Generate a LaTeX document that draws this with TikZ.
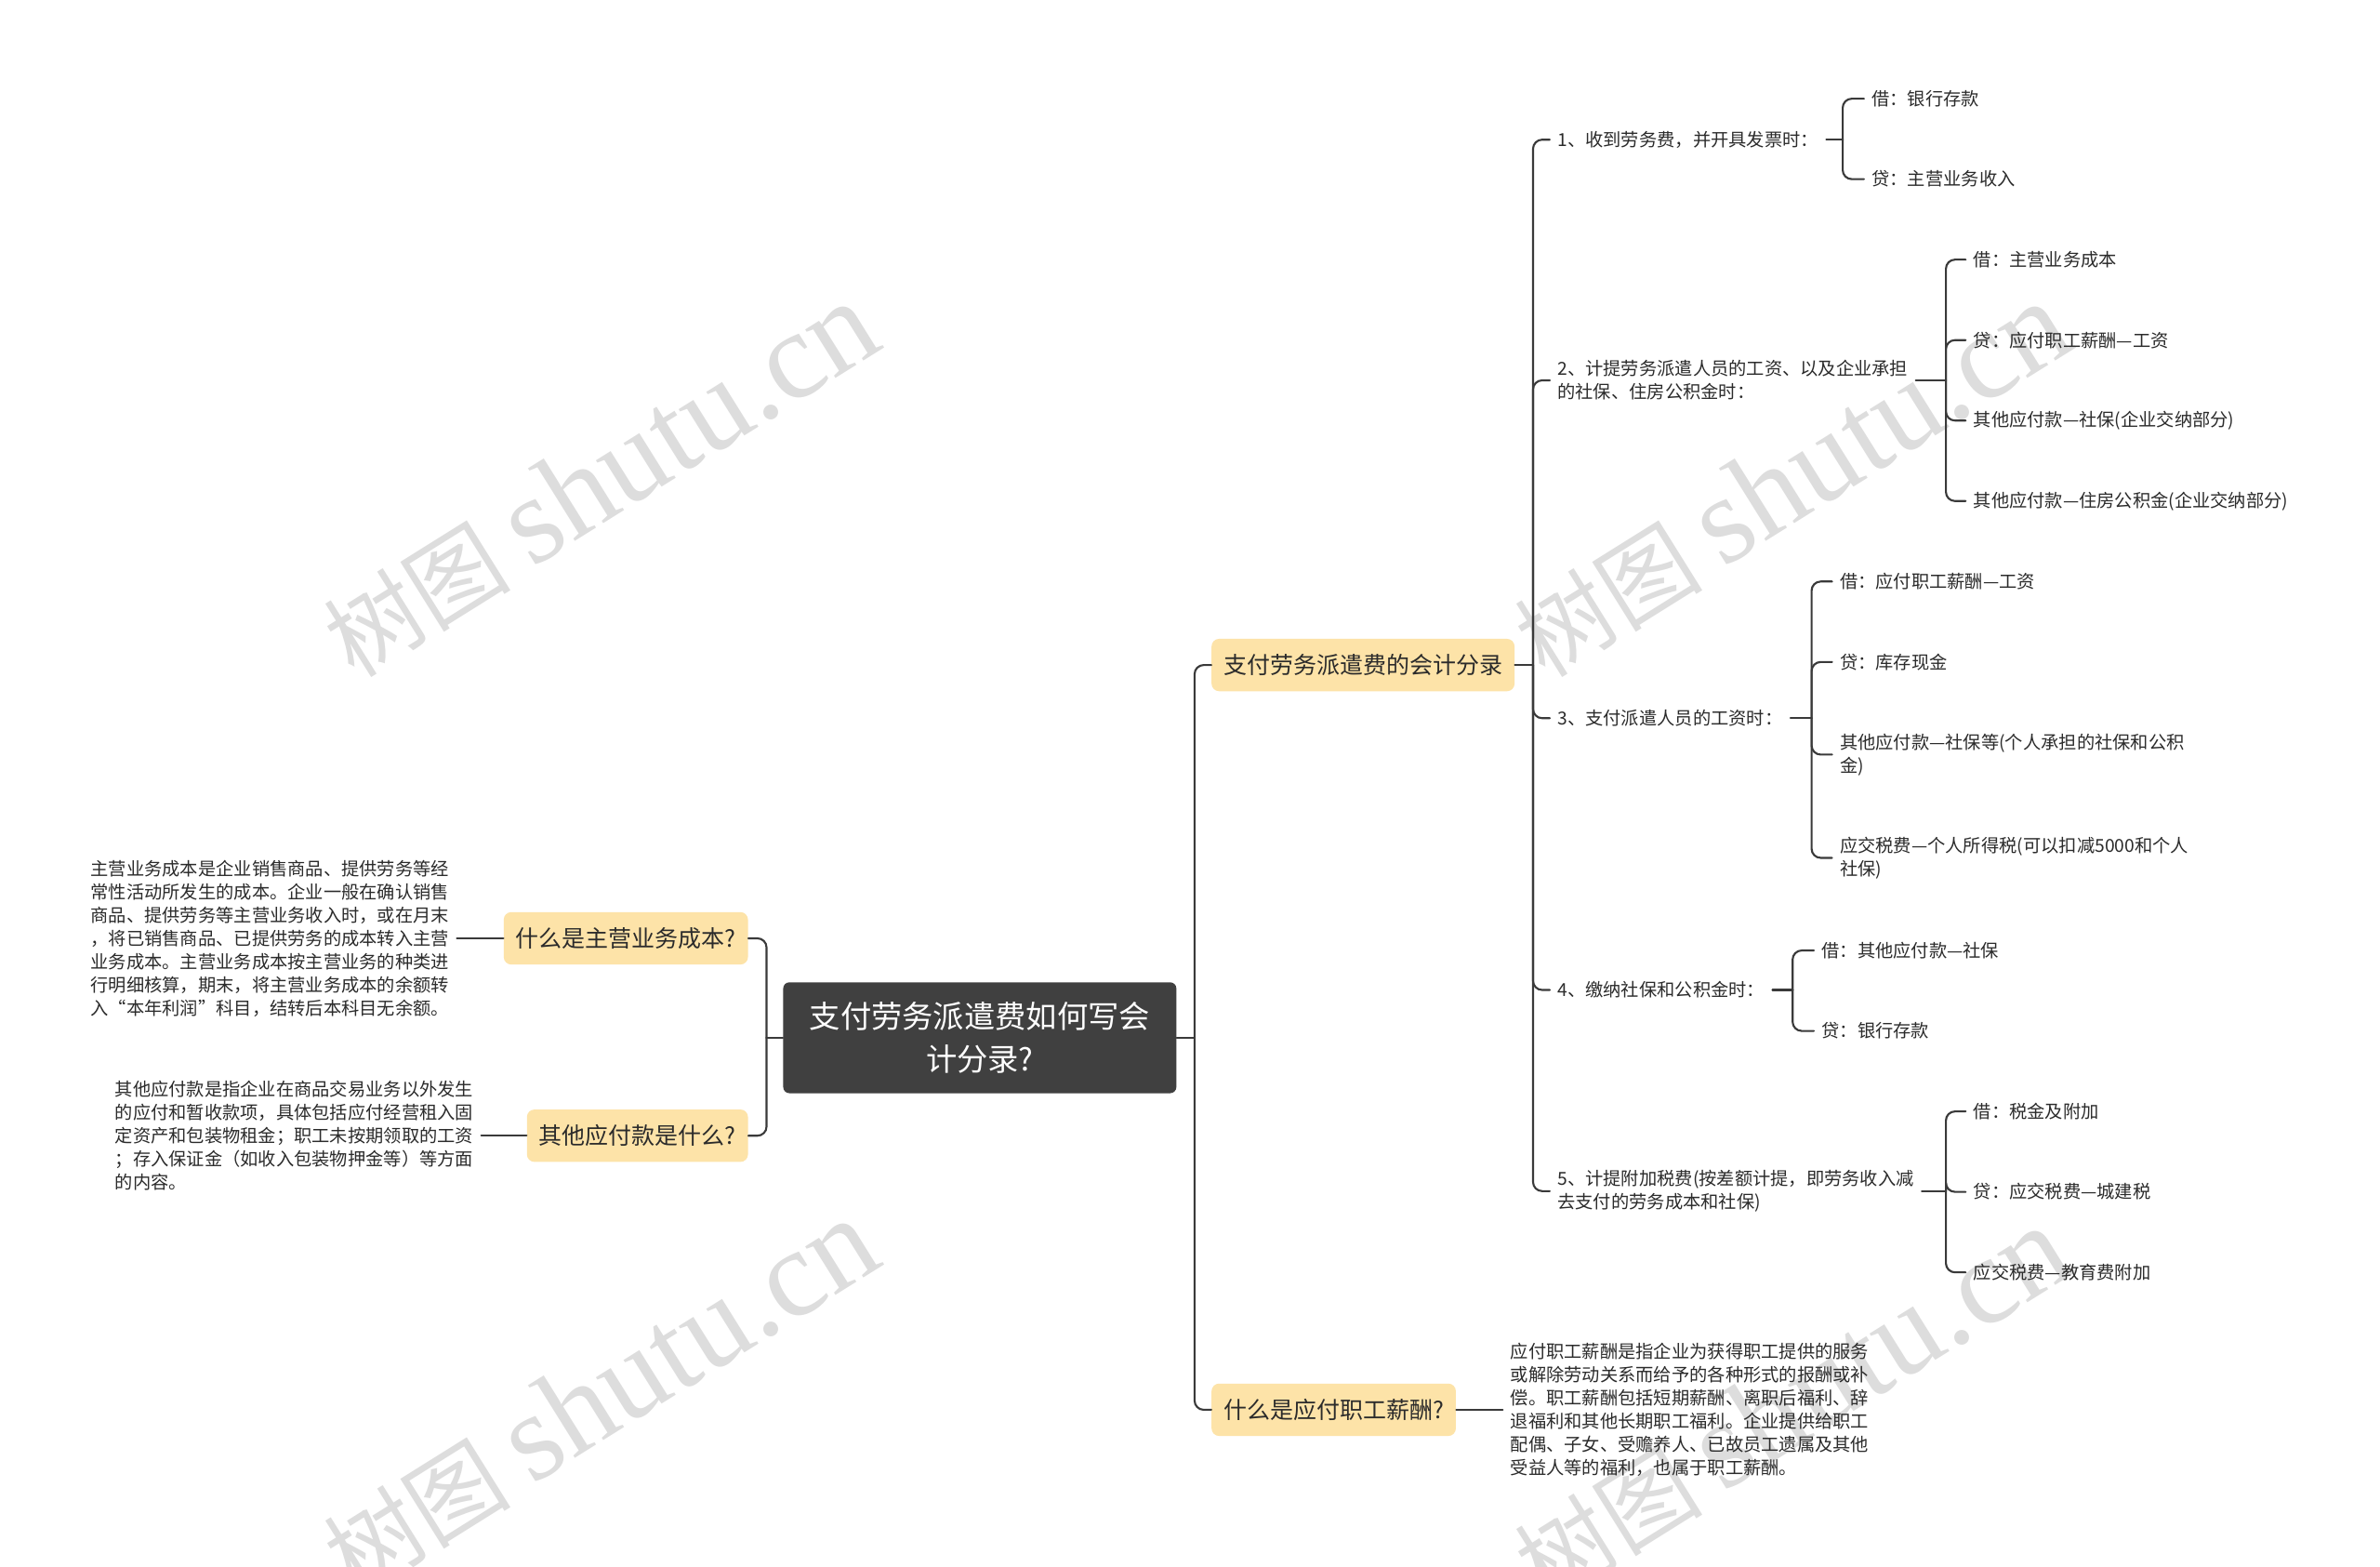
\documentclass[tikz,border=0pt]{standalone}
\usepackage{fontspec}
\setmainfont{Noto Sans CJK SC}
\newfontfamily\wmserif{Liberation Serif}
\usepackage{tikz}

\definecolor{linegray}{HTML}{3A3A3A}
\definecolor{rootfill}{HTML}{404040}
\definecolor{topicfill}{HTML}{FDE3A8}
\definecolor{txtcol}{HTML}{2B2B2B}
\definecolor{wmgray}{HTML}{DDDDDD}

\begin{document}
\begin{tikzpicture}[x=1pt,y=-1pt,
        root/.style={fill=rootfill, text=white, rounded corners=4pt, minimum width=259pt, minimum height=73pt, align=center, inner sep=0pt, font=\fontsize{20.4}{28}\selectfont},
        topic/.style={fill=topicfill, text=txtcol, rounded corners=5pt, inner xsep=8pt, minimum height=34.5pt, font=\fontsize{15.3}{18}\selectfont},
        leaf/.style={anchor=west, align=left, inner xsep=5pt, inner ysep=2pt, text=txtcol, font=\fontsize{11.8}{15.3}\selectfont},
        link/.style={draw=linegray, line width=1.3pt, rounded corners=6pt, line cap=round},
        wm/.style={text=wmgray, rotate=32, inner sep=0pt}]
        \useasboundingbox (0,0) rectangle (1568,1032);
        \fill[white] (0,0) rectangle (1568,1032);

        % watermarks
        \foreach \wx/\wy in {395/316, 1180/316, 395/920, 1180/925}
            \node[wm] at (\wx,\wy) {\fontsize{62}{62}\selectfont 树图 \wmserif\fontsize{82}{82}\selectfont shutu.cn};

        \node[root] (root) at (645.5,683.5) {支付劳务派遣费如何写会\\计分录?};

        \node[topic, anchor=west] (t1) at (798,438) {支付劳务派遣费的会计分录};
        \node[topic, anchor=west] (t2) at (798,928.5) {什么是应付职工薪酬?};
        \node[topic, anchor=east] (t3) at (493,618) {什么是主营业务成本?};
        \node[topic, anchor=east] (t4) at (493,748) {其他应付款是什么?};

        \node[leaf, anchor=east] (d3) at (301,618) {主营业务成本是企业销售商品、提供劳务等经\\常性活动所发生的成本。企业一般在确认销售\\商品、提供劳务等主营业务收入时，或在月末\\，将已销售商品、已提供劳务的成本转入主营\\业务成本。主营业务成本按主营业务的种类进\\行明细核算，期末，将主营业务成本的余额转\\入“本年利润”科目，结转后本科目无余额。};
        \node[leaf, anchor=east] (d4) at (317,748) {其他应付款是指企业在商品交易业务以外发生\\的应付和暂收款项，具体包括应付经营租入固\\定资产和包装物租金；职工未按期领取的工资\\；存入保证金（如收入包装物押金等）等方面\\的内容。};
        \node[leaf] (d2) at (990,928.5) {应付职工薪酬是指企业为获得职工提供的服务\\或解除劳动关系而给予的各种形式的报酬或补\\偿。职工薪酬包括短期薪酬、离职后福利、辞\\退福利和其他长期职工福利。企业提供给职工\\配偶、子女、受赡养人、已故员工遗属及其他\\受益人等的福利，也属于职工薪酬。};

        \node[leaf] (s1) at (1021,92) {1、收到劳务费，并开具发票时：};
        \node[leaf] (s2) at (1021,250.5) {2、计提劳务派遣人员的工资、以及企业承担\\的社保、住房公积金时：};
        \node[leaf] (s3) at (1021,473) {3、支付派遣人员的工资时：};
        \node[leaf] (s4) at (1021,652) {4、缴纳社保和公积金时：};
        \node[leaf] (s5) at (1021,784.5) {5、计提附加税费(按差额计提，即劳务收入减\\去支付的劳务成本和社保)};

        \node[leaf] (s11) at (1228,65) {借：银行存款};
        \node[leaf] (s12) at (1228,118) {贷：主营业务收入};
        \node[leaf] (s21) at (1295,171) {借：主营业务成本};
        \node[leaf] (s22) at (1295,224) {贷：应付职工薪酬—工资};
        \node[leaf] (s23) at (1295,277) {其他应付款—社保(企业交纳部分)};
        \node[leaf] (s24) at (1295,330) {其他应付款—住房公积金(企业交纳部分)};
        \node[leaf] (s31) at (1207,383) {借：应付职工薪酬—工资};
        \node[leaf] (s32) at (1207,436) {贷：库存现金};
        \node[leaf] (s33) at (1207,497) {其他应付款—社保等(个人承担的社保和公积\\金)};
        \node[leaf] (s34) at (1207,565) {应交税费—个人所得税(可以扣减5000和个人\\社保)};
        \node[leaf] (s41) at (1195,626) {借：其他应付款—社保};
        \node[leaf] (s42) at (1195,679) {贷：银行存款};
        \node[leaf] (s51) at (1295,732) {借：税金及附加};
        \node[leaf] (s52) at (1295,785) {贷：应交税费—城建税};
        \node[leaf] (s53) at (1295,838) {应交税费—教育费附加};

        % junctions
        \coordinate (jr) at (787,683.5);
        \coordinate (jl) at (505,683.5);
        \coordinate (j1) at (1010,438);
        \coordinate (b1) at (1214,92);
        \coordinate (b2) at (1282,250.5);
        \coordinate (b3) at (1193.5,473);
        \coordinate (b4) at (1181,652);
        \coordinate (b5) at (1282,784.5);

        \draw[link] (root.east) -- (jr);
        \draw[link] (root.west) -- (jl);
        \foreach \c in {t1,t2} \draw[link] (jr) |- (\c.west);
        \foreach \c in {t3,t4} \draw[link] (jl) |- (\c.east);
        \draw[link] (t3.west) -- (d3.east);
        \draw[link] (t4.west) -- (d4.east);
        \draw[link] (t2.east) -- (d2.west);

        \draw[link] (t1.east) -- (j1);
        \foreach \c in {s1,s2,s3,s4,s5} \draw[link] (j1) |- (\c.west);

        \draw[link] (s1.east) -- (b1);
        \draw[link] (s2.east) -- (b2);
        \draw[link] (s3.east) -- (b3);
        \draw[link] (s4.east) -- (b4);
        \draw[link] (s5.east) -- (b5);
        \foreach \c in {s11,s12} \draw[link] (b1) |- (\c.west);
        \foreach \c in {s21,s22,s23,s24} \draw[link] (b2) |- (\c.west);
        \foreach \c in {s31,s32,s33,s34} \draw[link] (b3) |- (\c.west);
        \foreach \c in {s41,s42} \draw[link] (b4) |- (\c.west);
        \foreach \c in {s51,s52,s53} \draw[link] (b5) |- (\c.west);
    \end{tikzpicture}
\end{document}
